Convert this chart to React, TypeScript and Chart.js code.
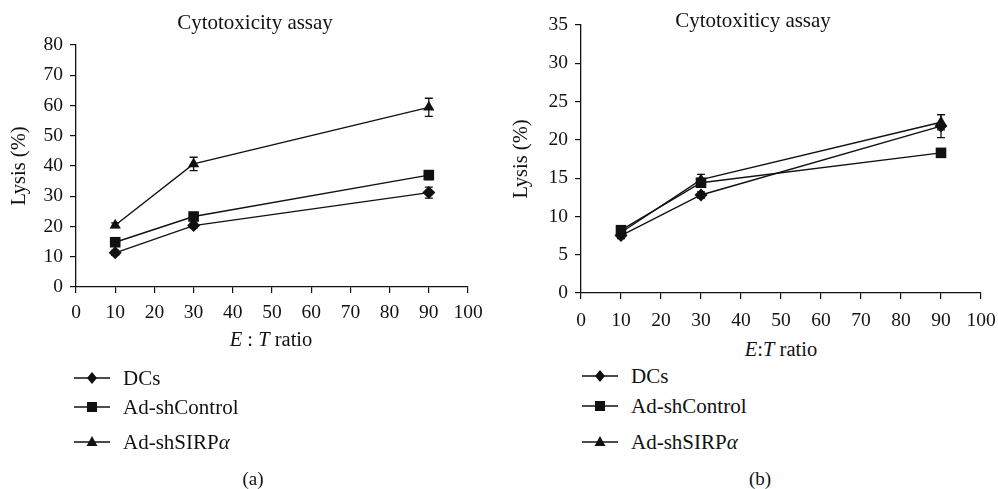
import React, { useEffect, useRef } from "react";
import { Chart, registerables } from "chart.js";
Chart.register(...registerables);

const ratios = [10, 30, 90];
const seriesNames = ["DCs", "Ad-shControl", "Ad-shSIRP"];
const pointStyles = ["rectRot", "rect", "triangle"];

const xMax = 100;
const aYMax = 80;
const aYStep = 10;
const aDCs = [11.3, 20.3, 31.2];
const aDCsErr = [0.8, 0.8, 1.8];
const aControl = [14.8, 23.3, 37.0];
const aControlErr = [1.0, 0.8, 1.5];
const aSIRP = [20.4, 40.7, 59.4];
const aSIRPErr = [0.8, 2.2, 3.0];

const bYMax = 35;
const bYStep = 5;
const bDCs = [7.5, 12.8, 21.8];
const bDCsErr = [0.4, 0.4, 1.5];
const bControl = [8.2, 14.4, 18.3];
const bControlErr = [0.5, 0.5, 0.4];
const bSIRP = [7.9, 14.8, 22.3];
const bSIRPErr = [0.4, 0.7, 1.0];

const FONT = "'Liberation Serif', 'DejaVu Serif', serif";

const errorBarPlugin = {
  id: "errorBars",
  afterDatasetsDraw(chart: any, _args: any, opts: any) {
    const errs: number[][] = opts.errors || [];
    const ctx = chart.ctx;
    const xs = chart.scales.x;
    const ys = chart.scales.y;
    ctx.save();
    ctx.strokeStyle = "#111";
    ctx.lineWidth = 1.3;
    chart.data.datasets.forEach((ds: any, i: number) => {
      const e = errs[i];
      if (!e) return;
      ds.data.forEach((p: any, j: number) => {
        const px = xs.getPixelForValue(p.x);
        const top = ys.getPixelForValue(p.y + e[j]);
        const bot = ys.getPixelForValue(p.y - e[j]);
        ctx.beginPath();
        ctx.moveTo(px, top);
        ctx.lineTo(px, bot);
        ctx.moveTo(px - 4, top);
        ctx.lineTo(px + 4, top);
        ctx.moveTo(px - 4, bot);
        ctx.lineTo(px + 4, bot);
        ctx.stroke();
      });
    });
    ctx.restore();
  },
};

function makeConfig(
  values: number[][],
  errors: number[][],
  yMax: number,
  yStep: number,
  pad: { top: number; right: number },
  yWidth: number,
  xHeight: number,
  yTitleCenter: number,
  xTickPad: number
): any {
  const radii = [6.5, 7.5, 6.5];
  return {
    type: "line",
    data: {
      datasets: values.map((vals, i) => ({
        label: seriesNames[i],
        data: vals.map((v, j) => ({ x: ratios[j], y: v })),
        borderColor: "#111",
        backgroundColor: "#111",
        borderWidth: 1.4,
        pointStyle: pointStyles[i],
        pointRadius: radii[i],
        pointBorderWidth: 0,
        pointBackgroundColor: "#111",
        tension: 0,
        fill: false,
      })),
    },
    options: {
      responsive: false,
      animation: false,
      events: [],
      layout: { padding: { left: 0, top: pad.top, right: pad.right, bottom: 0 } },
      plugins: {
        legend: { display: false },
        tooltip: { enabled: false },
        title: { display: false },
        errorBars: { errors },
      },
      scales: {
        x: {
          type: "linear",
          min: 0,
          max: xMax,
          ticks: {
            stepSize: 10,
            color: "#111",
            font: { family: FONT, size: 19.5 },
            padding: xTickPad,
            maxRotation: 0,
          },
          grid: { drawOnChartArea: false, drawTicks: true, tickLength: 6, color: "#111", lineWidth: 1.2 },
          border: { display: true, color: "#111", width: 1.3 },
          afterFit: (s: any) => {
            s.height = xHeight;
            s.paddingLeft = 0;
            s.paddingRight = 0;
          },
        },
        y: {
          type: "linear",
          min: 0,
          max: yMax,
          ticks: {
            stepSize: yStep,
            color: "#111",
            font: { family: FONT, size: 19.5 },
            padding: 7,
          },
          grid: { drawOnChartArea: false, drawTicks: true, tickLength: 6, color: "#111", lineWidth: 1.2 },
          border: { display: true, color: "#111", width: 1.3 },
          title: {
            display: true,
            text: "Lysis (%)",
            color: "#111",
            font: { family: FONT, size: 20.5 },
            padding: { top: yTitleCenter - 12.3, bottom: 0 },
          },
          afterFit: (s: any) => {
            s.width = yWidth;
            s.paddingTop = 0;
            s.paddingBottom = 0;
          },
        },
      },
    },
    plugins: [errorBarPlugin],
  };
}

function Marker({ style }: { style: string }) {
  let shape: any = null;
  if (style === "rectRot") shape = <polygon points="18,2 23,8 18,14 13,8" fill="#111" />;
  else if (style === "rect") shape = <rect x="13" y="3" width="10" height="10" fill="#111" />;
  else shape = <polygon points="18,2 23.5,12 12.5,12" fill="#111" />;
  return (
    <svg width="36" height="16" viewBox="0 0 36 16" style={{ display: "block" }}>
      <line x1="0" y1="8" x2="36" y2="8" stroke="#111" strokeWidth="1.3" />
      {shape}
    </svg>
  );
}

const txt: React.CSSProperties = {
  position: "absolute",
  fontFamily: FONT,
  color: "#111",
  whiteSpace: "nowrap",
  transform: "translate(-50%, -50%)",
  lineHeight: 1,
};

function Legend({ left, textLeft, ys }: { left: number; textLeft: number; ys: number[] }) {
  return (
    <>
      {seriesNames.map((n, i) => (
        <React.Fragment key={n}>
          <div style={{ position: "absolute", left, top: ys[i] - 8 }}>
            <Marker style={pointStyles[i]} />
          </div>
          <div
            style={{
              position: "absolute",
              left: textLeft,
              top: ys[i],
              transform: "translateY(-50%)",
              fontFamily: FONT,
              fontSize: 21,
              color: "#111",
              whiteSpace: "nowrap",
              lineHeight: 1,
            }}
          >
            {n}
            {i === 2 ? <i>α</i> : null}
          </div>
        </React.Fragment>
      ))}
    </>
  );
}

export default function App() {
  const refA = useRef<HTMLCanvasElement>(null);
  const refB = useRef<HTMLCanvasElement>(null);
  useEffect(() => {
    const ca = new Chart(
      refA.current as HTMLCanvasElement,
      makeConfig(
        [aDCs, aControl, aSIRP],
        [aDCsErr, aControlErr, aSIRPErr],
        aYMax,
        aYStep,
        { top: 45, right: 31 },
        76,
        43,
        20,
        8
      )
    );
    const cb = new Chart(
      refB.current as HTMLCanvasElement,
      makeConfig(
        [bDCs, bControl, bSIRP],
        [bDCsErr, bControlErr, bSIRPErr],
        bYMax,
        bYStep,
        { top: 25, right: 17 },
        82,
        37,
        23,
        10
      )
    );
    return () => {
      ca.destroy();
      cb.destroy();
    };
  }, []);

  return (
    <div style={{ position: "absolute", left: 0, top: 0, width: 998, height: 489, background: "#fff", overflow: "hidden" }}>
      <canvas ref={refA} width={499} height={330} style={{ position: "absolute", left: 0, top: 0, width: 499, height: 330 }} />
      <canvas ref={refB} width={499} height={330} style={{ position: "absolute", left: 499, top: 0, width: 499, height: 330 }} />
      <div style={{ ...txt, left: 255, top: 22, fontSize: 21 }}>Cytotoxicity assay</div>
      <div style={{ ...txt, left: 753, top: 20, fontSize: 21 }}>Cytotoxiticy assay</div>
      <div style={{ ...txt, left: 271, top: 339, fontSize: 20.5 }}>
        <i>E</i> : <i>T</i> ratio
      </div>
      <div style={{ ...txt, left: 781, top: 349, fontSize: 20.5 }}>
        <i>E</i>:<i>T</i> ratio
      </div>
      <Legend left={74} textLeft={123} ys={[378, 407, 442]} />
      <Legend left={582} textLeft={631} ys={[376, 406, 442]} />
      <div style={{ ...txt, left: 253, top: 478, fontSize: 19 }}>(a)</div>
      <div style={{ ...txt, left: 760, top: 478, fontSize: 19 }}>(b)</div>
    </div>
  );
}
